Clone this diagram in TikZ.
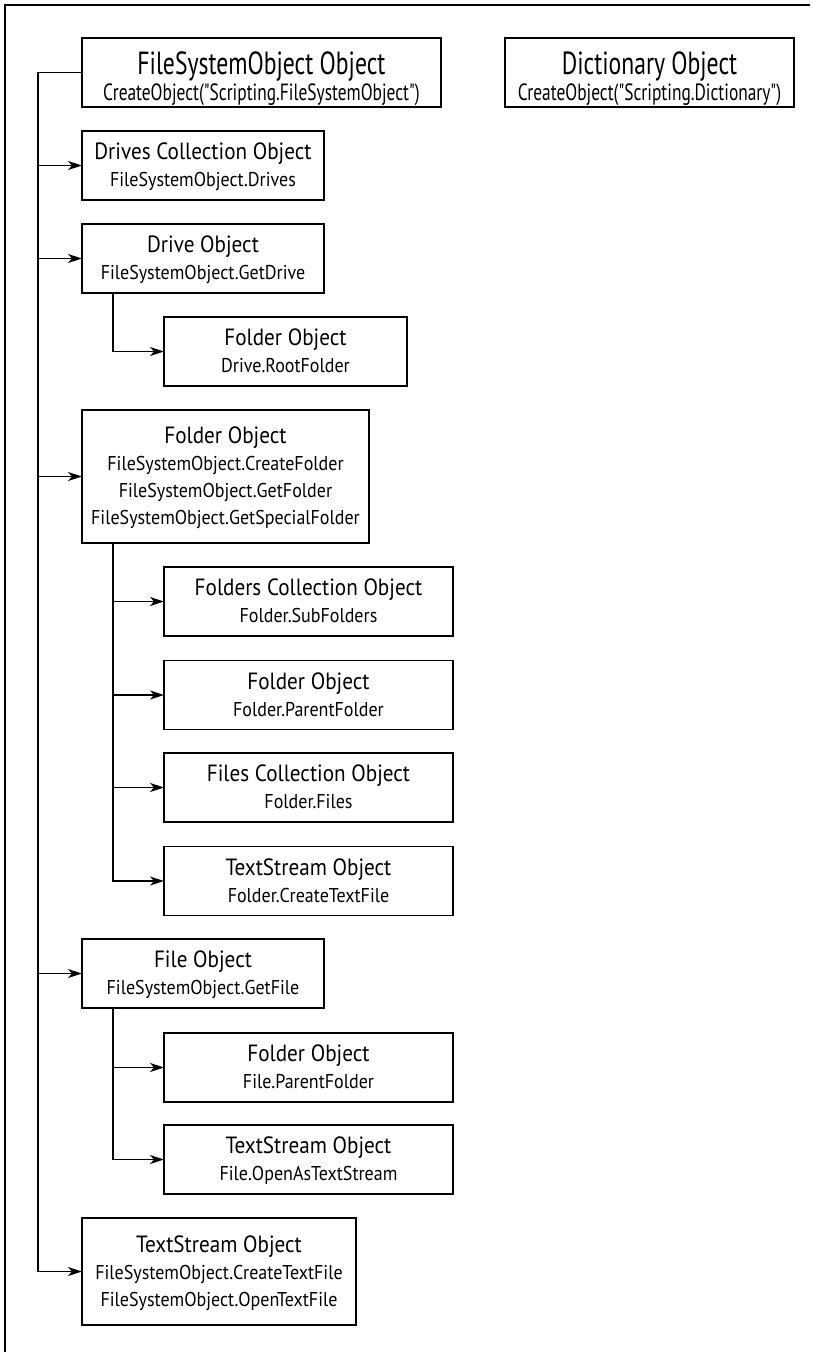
\documentclass[tikz,border=0pt]{standalone}
\usepackage{fontspec}
\setmainfont{PT Sans}[FakeStretch=0.9]
\newfontfamily\bigf{PT Sans}[FakeStretch=0.74]
\usetikzlibrary{arrows.meta}
\newcommand\nT[1]{\rule[-6pt]{0pt}{27pt}{\fontsize{23.5}{27}\selectfont #1}}
\newcommand\nS[1]{\rule[-6pt]{0pt}{27pt}{\fontsize{20}{27}\selectfont #1}}
\newcommand\bT[1]{\rule[-5pt]{0pt}{40pt}{\bigf\fontsize{32}{36}\selectfont #1}}
\newcommand\bS[1]{\rule{0pt}{20pt}{\bigf\fontsize{23.5}{27}\selectfont #1}}
\newcommand\boxlines[1]{{\def\arraystretch{0}\begin{tabular}{@{}c@{}}#1\end{tabular}}}
\tikzset{
  obj/.style={draw, rectangle, line width=1.6pt, inner sep=0pt, outer sep=0pt, minimum height=69pt},
  wire/.style={line width=1.5pt},
  arr/.style={wire, -{Stealth[length=14pt,width=9pt,inset=4pt]}},
}
\begin{document}
\begin{tikzpicture}[x=1pt,y=-1pt]
\useasboundingbox (0,0) rectangle (814,1352);
\draw[line width=1.1pt] (5,1352) -- (5,5) -- (810,5);

\node[obj, minimum width=359pt] (fso) at (261.5,72.5)
  {\boxlines{\bT{FileSystemObject Object}\\\bS{CreateObject("Scripting.FileSystemObject")}}};
\node[obj, minimum width=289pt] (dict) at (649.5,72.5)
  {\boxlines{\bT{Dictionary Object}\\\bS{CreateObject("Scripting.Dictionary")}}};

\node[obj, minimum width=242pt] (drives) at (203,165.5)
  {\boxlines{\nT{Drives Collection Object}\\\nS{FileSystemObject.Drives}}};
\node[obj, minimum width=242pt] (drive) at (203,258.5)
  {\boxlines{\nT{Drive Object}\\\nS{FileSystemObject.GetDrive}}};
\node[obj, minimum width=243pt] (root) at (285.5,351.5)
  {\boxlines{\nT{Folder Object}\\\nS{Drive.RootFolder}}};
\node[obj, minimum width=287pt, minimum height=133pt] (folder) at (225.5,476.5)
  {\boxlines{\nT{Folder Object}\\\nS{FileSystemObject.CreateFolder}\\\nS{FileSystemObject.GetFolder}\\\nS{FileSystemObject.GetSpecialFolder}}};
\node[obj, minimum width=289pt] (fcoll) at (308.5,601.5)
  {\boxlines{\nT{Folders Collection Object}\\\nS{Folder.SubFolders}}};
\node[obj, minimum width=289pt] (fparent) at (308.5,695)
  {\boxlines{\nT{Folder Object}\\\nS{Folder.ParentFolder}}};
\node[obj, minimum width=289pt] (files) at (308.5,787.5)
  {\boxlines{\nT{Files Collection Object}\\\nS{Folder.Files}}};
\node[obj, minimum width=289pt] (tsfolder) at (308.5,881)
  {\boxlines{\nT{TextStream Object}\\\nS{Folder.CreateTextFile}}};
\node[obj, minimum width=242pt] (file) at (203,973.5)
  {\boxlines{\nT{File Object}\\\nS{FileSystemObject.GetFile}}};
\node[obj, minimum width=289pt] (fileparent) at (308.5,1067.5)
  {\boxlines{\nT{Folder Object}\\\nS{File.ParentFolder}}};
\node[obj, minimum width=289pt] (tsfile) at (308.5,1159.5)
  {\boxlines{\nT{TextStream Object}\\\nS{File.OpenAsTextStream}}};
\node[obj, minimum width=274pt, minimum height=107pt] (tsfso) at (219,1271.5)
  {\boxlines{\nT{TextStream Object}\\\nS{FileSystemObject.CreateTextFile}\\\nS{FileSystemObject.OpenTextFile}}};

% main spine
\coordinate (spine) at (38,72.5);
\draw[arr] (fso.west) -- (spine) |- (tsfso.west);
\foreach \n in {drives,drive,folder,file}
  \draw[arr] (spine |- \n.west) -- (\n.west);

% Drive branch
\path (drive.south west) ++(31pt,0) coordinate (dj);
\draw[arr] (dj) |- (root.west);

% Folder branch
\path (folder.south west) ++(31pt,0) coordinate (fj);
\draw[arr] (fj) |- (tsfolder.west);
\foreach \n in {fcoll,fparent,files}
  \draw[arr] (fj |- \n.west) -- (\n.west);

% File branch
\path (file.south west) ++(31pt,0) coordinate (lj);
\draw[arr] (lj) |- (tsfile.west);
\draw[arr] (lj |- fileparent.west) -- (fileparent.west);
\end{tikzpicture}
\end{document}
